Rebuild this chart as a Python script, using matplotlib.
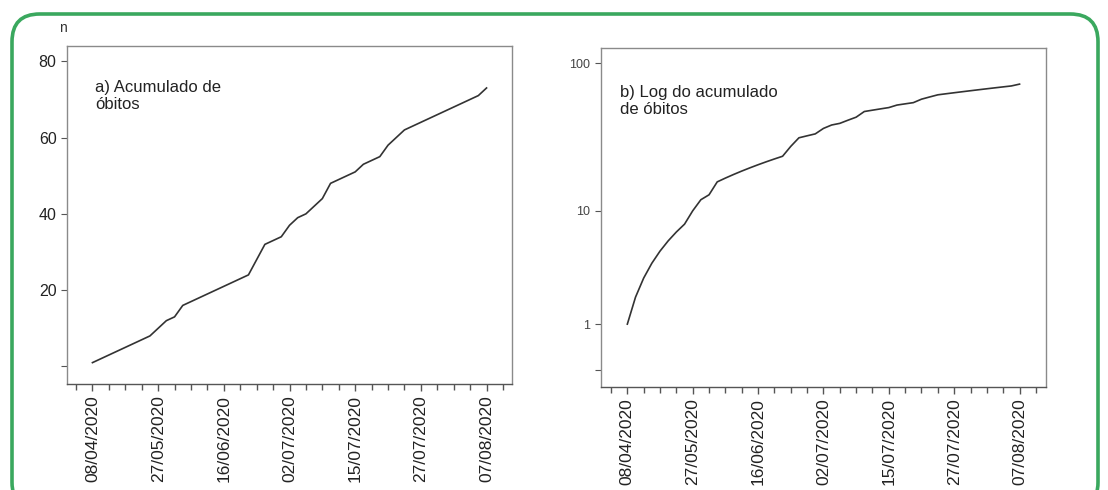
import matplotlib
matplotlib.use("Agg")
import matplotlib.pyplot as plt
import numpy as np
from matplotlib.patches import FancyBboxPatch
from matplotlib.ticker import FixedLocator, MultipleLocator

plt.rcParams["font.family"] = ["Liberation Sans", "DejaVu Sans"]

# cumulative deaths per observation
obitos = [1, 2, 3, 4, 5, 6, 7, 8, 10, 12,
          13, 16, 17, 18, 19, 20, 21, 22, 23, 24,
          28, 32, 33, 34, 37, 39, 40, 42, 44, 48,
          49, 50, 51, 53, 54, 55, 58, 60, 62, 63,
          64, 65, 66, 67, 68, 69, 70, 71, 73]
date_labels = ["08/04/2020", "27/05/2020", "16/06/2020", "02/07/2020",
               "15/07/2020", "27/07/2020", "07/08/2020"]
label_step = 8

idx = np.arange(len(obitos))
W, H = 1108, 490
fig = plt.figure(figsize=(W / 100, H / 100), dpi=100)

line_col = "#333333"
spine_col = "#8a8a8a"


def style_axes(ax, xlim):
    ax.set_xlim(*xlim)
    ax.xaxis.set_major_locator(FixedLocator(np.arange(len(date_labels)) * label_step))
    ax.set_xticklabels(date_labels, rotation=90, fontsize=12.5, color="#222222")
    ax.xaxis.set_minor_locator(MultipleLocator(2))
    ax.tick_params(axis="x", which="major", length=5, width=1, color="#555555", pad=3)
    ax.tick_params(axis="x", which="minor", length=4, width=1, color="#555555")
    ax.tick_params(axis="y", length=4, width=0.8, color="#555555")
    for s in ax.spines.values():
        s.set_color(spine_col)
        s.set_linewidth(1.0)
    ax.spines["bottom"].set_color("#555555")


# a) linear scale
ax1 = fig.add_axes([67 / W, 1 - 384 / H, 445 / W, 338 / H])
ax1.plot(idx, obitos, color=line_col, lw=1.2)
style_axes(ax1, (-3.1, 51.1))
ax1.set_ylim(-4.6, 84)
ax1.set_yticks([0, 20, 40, 60, 80])
ax1.set_yticklabels(["", "20", "40", "60", "80"], fontsize=11.5, color="#222222")
ax1.text(0.064, 0.90, "a) Acumulado de\nóbitos", transform=ax1.transAxes,
         fontsize=12, va="top", ha="left", color="#222222", linespacing=1.15)
fig.text(63 / W, 1 - 28 / H, "n", fontsize=10, ha="center", va="center", color="#333333")

# b) log(n + 1) scale
ax2 = fig.add_axes([600.7 / W, 1 - 386.7 / H, 445 / W, 339 / H])
ax2.plot(idx, obitos, color=line_col, lw=1.2)
ax2.set_yscale("function", functions=(lambda v: np.log10(np.clip(v + 1, 1e-6, None)),
                                      lambda v: 10 ** v - 1))
style_axes(ax2, (-3.26, 51.2))
ax2.set_ylim(-0.22, 127)
ax2.yaxis.set_major_locator(FixedLocator([0, 1, 10, 100]))
ax2.yaxis.set_minor_locator(FixedLocator([]))
ax2.set_yticklabels(["", "1", "10", "100"], fontsize=9, color="#444444")
ax2.text(0.043, 0.89, "b) Log do acumulado\nde óbitos", transform=ax2.transAxes,
         fontsize=12, va="top", ha="left", color="#222222", linespacing=1.15)

# rounded green frame around both panels
frame = FancyBboxPatch((12 / W, -20 / H), 1086 / W, (H - 14 + 20) / H,
                       boxstyle="round,pad=0,rounding_size=0.025",
                       transform=fig.transFigure, facecolor="none",
                       edgecolor="#3aa85e", linewidth=2.6, mutation_aspect=W / H)
fig.patches.append(frame)

fig.savefig("out.png", dpi=100)
